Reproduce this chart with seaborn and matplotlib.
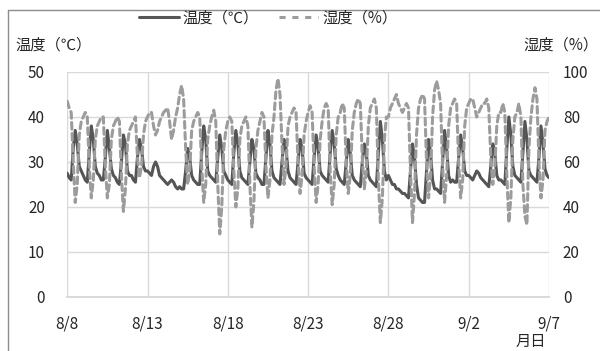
import matplotlib
matplotlib.use("Agg")
import matplotlib.pyplot as plt
from matplotlib.lines import Line2D
import numpy as np
import pandas as pd
import seaborn as sns

# 3-hourly readings (0,3,6,9,12,15,18,21h), 8/8 .. 9/6, plus 9/7 0h
temp_days = [
    [27.5, 26.5, 26, 33, 37, 34, 29, 28],      # 8/8
    [27, 26, 25.5, 32, 38, 35, 29, 27.5],      # 8/9
    [27, 26, 26, 31, 37, 33, 28.5, 27],        # 8/10
    [26.5, 25.5, 25, 30, 36, 34, 28, 27],      # 8/11
    [27, 26, 25.5, 31, 35, 33, 29, 28],        # 8/12
    [28, 27.5, 27, 29, 30, 29, 27, 26.5],      # 8/13
    [26, 25.5, 25, 25.5, 26, 25.5, 24.5, 24],  # 8/14
    [24.5, 24, 24, 28, 33, 31, 27, 26],        # 8/15
    [25.5, 25, 25, 32, 38, 35, 28, 27],        # 8/16
    [26.5, 26, 25.5, 31, 36, 33, 28, 27],      # 8/17
    [26, 25.5, 25, 32, 37, 34, 28, 26.5],      # 8/18
    [26, 25.5, 25, 30, 35, 33, 27.5, 26.5],    # 8/19
    [26, 25, 25, 31, 37, 34, 28, 26.5],        # 8/20
    [26, 25.5, 25, 30, 35, 33, 28, 26.5],      # 8/21
    [26, 25.5, 25, 30, 35, 33, 27.5, 26.5],    # 8/22
    [26, 25.5, 25, 31, 36, 33, 28, 27],        # 8/23
    [26.5, 26, 25.5, 32, 37, 34, 28.5, 27],    # 8/24
    [26, 25.5, 25, 30, 35, 32, 27, 26],        # 8/25
    [25.5, 25, 24.5, 30, 34, 32, 27, 26],      # 8/26
    [25.5, 25, 24.5, 32, 39, 35, 28, 26],      # 8/27
    [27, 26, 25, 25, 24, 24, 23.5, 23],        # 8/28
    [23, 22.5, 22, 28, 34, 31, 25, 22],        # 8/29
    [21.5, 21, 21, 28, 35, 32, 26, 24],        # 8/30
    [24, 23.5, 23, 30, 37, 33, 27, 25.5],      # 8/31
    [26, 25.5, 25.5, 31, 36, 33, 28, 27],      # 9/1
    [27, 26.5, 26, 27, 28, 27.5, 26.5, 26],    # 9/2
    [25.5, 25, 24.5, 29, 34, 32, 27, 26],      # 9/3
    [26, 25.5, 25, 33, 40, 36, 29, 27],        # 9/4
    [26.5, 26, 25.5, 32, 39, 35, 28, 27],      # 9/5
    [26.5, 26, 25.5, 31, 38, 34, 28.5, 27],    # 9/6
    [26.5],                                    # 9/7
]
humid_days = [
    [87, 84, 82, 60, 42, 50, 72, 78],   # 8/8
    [80, 82, 80, 58, 44, 52, 70, 76],   # 8/9
    [78, 80, 80, 58, 44, 50, 70, 76],   # 8/10
    [78, 80, 78, 54, 38, 48, 68, 74],   # 8/11
    [76, 78, 80, 62, 53, 58, 72, 78],   # 8/12
    [80, 82, 82, 76, 72, 74, 78, 80],   # 8/13
    [82, 83, 84, 78, 70, 74, 80, 84],   # 8/14
    [90, 94, 88, 66, 50, 56, 74, 78],   # 8/15
    [80, 82, 80, 58, 42, 50, 70, 76],   # 8/16
    [80, 83, 78, 50, 28, 40, 66, 74],   # 8/17
    [78, 80, 78, 56, 40, 48, 70, 76],   # 8/18
    [78, 80, 76, 50, 31, 42, 66, 74],   # 8/19
    [78, 82, 80, 58, 44, 52, 72, 80],   # 8/20
    [92, 97, 90, 68, 50, 58, 76, 80],   # 8/21
    [82, 84, 82, 60, 46, 54, 72, 78],   # 8/22
    [82, 85, 82, 58, 42, 50, 70, 78],   # 8/23
    [84, 86, 84, 56, 41, 50, 72, 80],   # 8/24
    [82, 86, 84, 60, 46, 54, 74, 82],   # 8/25
    [86, 88, 86, 62, 48, 56, 76, 84],   # 8/26
    [86, 88, 84, 52, 33, 44, 70, 80],   # 8/27
    [80, 84, 86, 88, 90, 86, 84, 82],   # 8/28
    [84, 86, 84, 56, 33, 46, 72, 84],   # 8/29
    [88, 90, 88, 60, 44, 54, 80, 92],   # 8/30
    [96, 92, 86, 58, 42, 54, 76, 84],   # 8/31
    [86, 88, 86, 60, 44, 52, 76, 84],   # 9/1
    [86, 88, 88, 84, 80, 82, 84, 86],   # 9/2
    [86, 88, 84, 62, 50, 58, 76, 82],   # 9/3
    [82, 86, 82, 54, 33, 44, 70, 80],   # 9/4
    [82, 86, 80, 50, 36, 32, 66, 80],   # 9/5
    [88, 93, 88, 60, 44, 52, 74, 78],   # 9/6
    [80],                               # 9/7
]
tick_labels = ["8/8", "8/13", "8/18", "8/23", "8/28", "9/2", "9/7"]

temp = np.concatenate(temp_days)
humid = np.concatenate(humid_days)
times = pd.date_range("2020-08-08", periods=len(temp), freq="3h")
df = pd.DataFrame({"time": times, "temp": temp, "humid": humid})

sns.set_theme(style="white")
plt.rcParams["font.family"] = ["Noto Sans CJK JP", "DejaVu Sans"]

dark = "#555555"
light = "#9c9c9c"
grid_c = "#d9d9d9"
text_c = "#262626"
fs = 11

fig = plt.figure(figsize=(6, 3.51), dpi=100)
ax = fig.add_axes([0.112, 0.154, 0.803, 0.641])
ax2 = ax.twinx()

sns.lineplot(data=df, x="time", y="temp", ax=ax, color=dark, lw=2.2)
sns.lineplot(data=df, x="time", y="humid", ax=ax2, color=light, lw=2.2)
ax2.lines[0].set_dashes((2.2, 1.4))
ax2.lines[0].set_dash_capstyle("round")

xticks = pd.date_range("2020-08-08", "2020-09-07", freq="5D")
ax.set_xlim(times[0], times[-1])
ax.set_xticks(xticks)
ax.set_xticklabels(tick_labels)
ax.set_ylim(0, 50)
ax.set_yticks(range(0, 51, 10))
ax2.set_ylim(0, 100)
ax2.set_yticks(range(0, 101, 20))

ax.grid(True, color=grid_c, lw=1)
ax.set_axisbelow(True)
for a in (ax, ax2):
    a.set_xlabel("")
    a.set_ylabel("")
    for s in ("left", "right", "top"):
        a.spines[s].set_visible(False)
    a.spines["bottom"].set_color(grid_c)
ax.tick_params(axis="x", length=0, pad=13, labelsize=fs, colors=text_c)
ax.tick_params(axis="y", length=0, pad=16, labelsize=fs, colors=text_c)
ax2.tick_params(axis="y", length=0, pad=10, labelsize=fs, colors=text_c)

fig.text(0.025, 0.872, "温度（℃）", fontsize=fs, color=text_c, va="center")
fig.text(0.872, 0.872, "湿度（%）", fontsize=fs, color=text_c, va="center")
fig.text(0.860, 0.028, "月日", fontsize=fs, color=text_c, va="center")

handles = [Line2D([], [], color=dark, lw=2.2),
           Line2D([], [], color=light, lw=2.2, dashes=(2.0, 2.2))]
fig.legend(handles, ["温度（℃）", "湿度（%）"], loc="center",
           bbox_to_anchor=(0.447, 0.948), ncol=2, frameon=False,
           handlelength=2.6, handletextpad=0.25, columnspacing=1.3,
           fontsize=fs, labelcolor=text_c)

# outer chart frame (only top and left edges are in view)
fig.add_artist(Line2D([0.013, 1.0], [0.971, 0.971], color="#8c8c8c", lw=1,
                      transform=fig.transFigure))
fig.add_artist(Line2D([0.013, 0.013], [0.0, 0.971], color="#8c8c8c", lw=1,
                      transform=fig.transFigure))

fig.savefig("out.png", dpi=100)
